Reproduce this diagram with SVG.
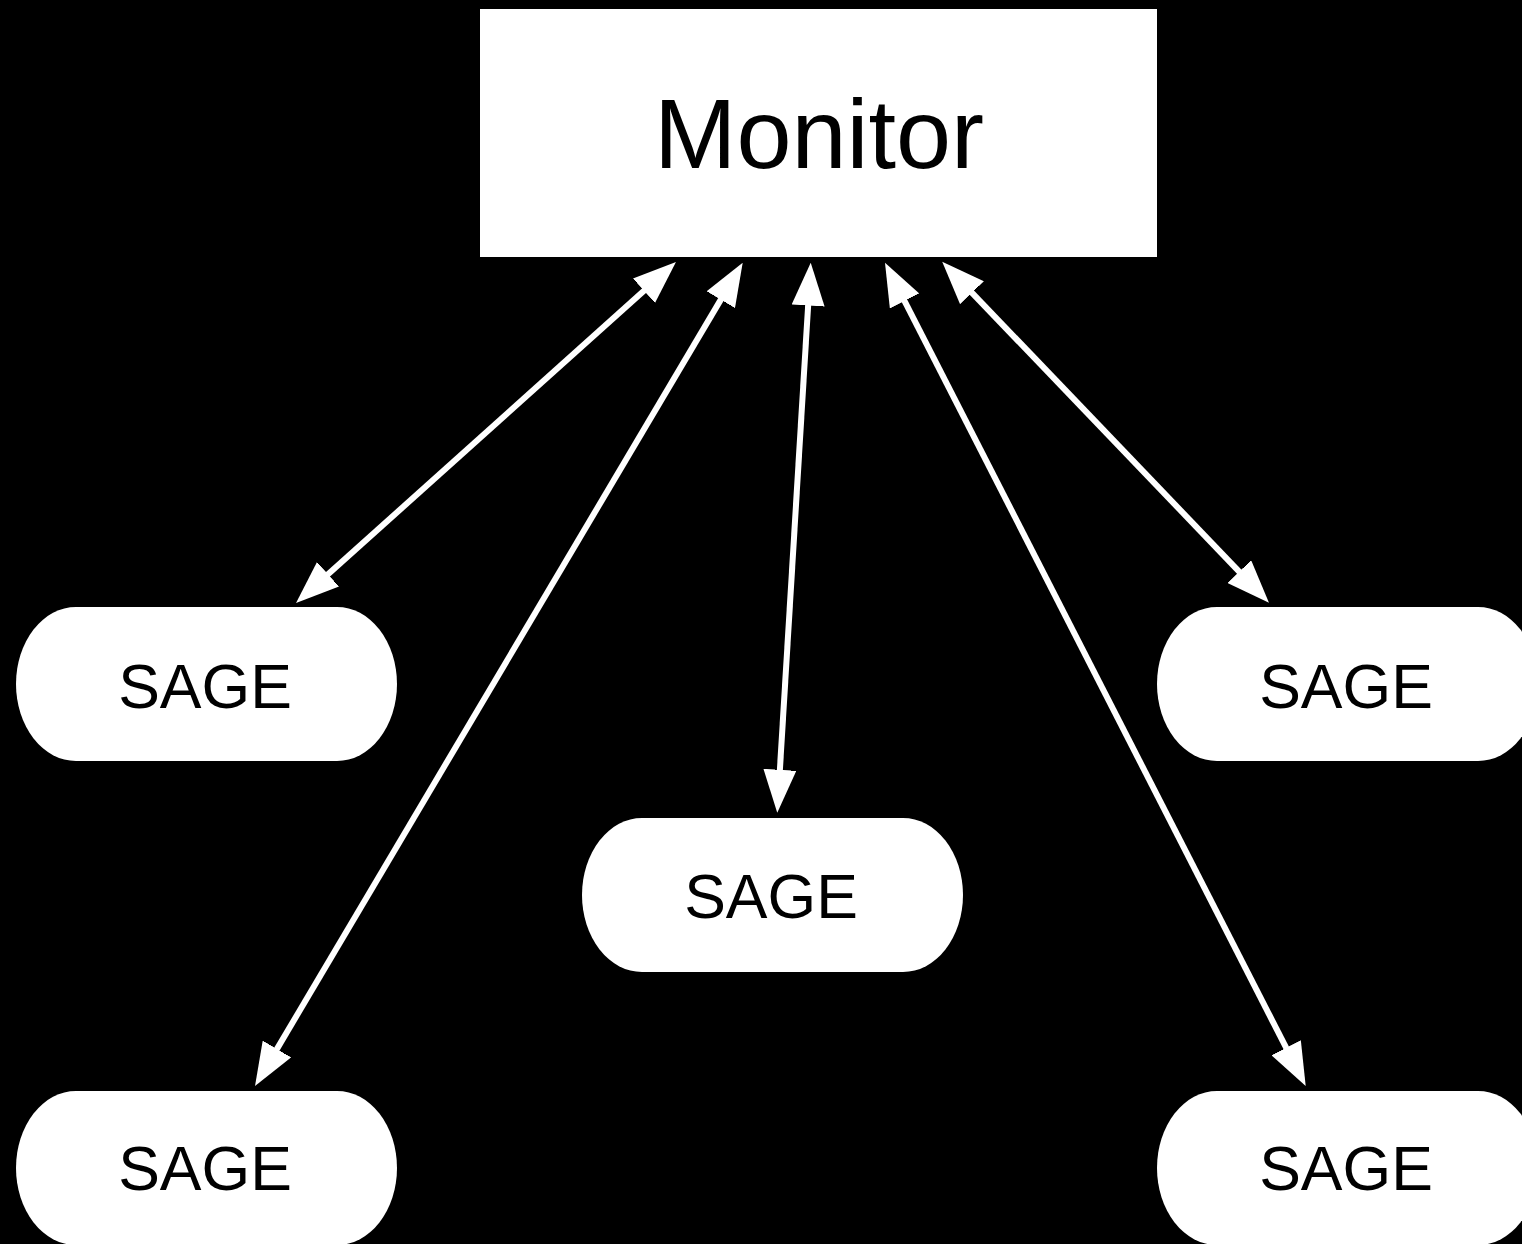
<svg xmlns="http://www.w3.org/2000/svg" width="1522" height="1244" viewBox="0 0 1522 1244">
<style>
.bg{fill:#000}
.box{fill:#fff}
.lbl{font-family:"Liberation Sans",Arial,Helvetica,sans-serif;fill:#000;text-anchor:middle}
.sage{font-size:62.5px}
.mon{font-size:99px}
.conn{stroke:#fff;stroke-width:6;fill:none;marker-start:url(#ah);marker-end:url(#ah)}
</style>
<defs>
<marker id="ah" viewBox="0 0 43 33" markerWidth="43" markerHeight="33" markerUnits="userSpaceOnUse" refX="3" refY="16.5" orient="auto-start-reverse">
<path d="M0,0 L43,16.5 L0,33 z" fill="#fff"/>
</marker>
</defs>
<rect class="bg" x="0" y="0" width="1522" height="1244"/>
<g id="connectors">
<line class="conn" x1="325.8" y1="576.3" x2="646.2" y2="288.7"/>
<line class="conn" x1="275.4" y1="1051.6" x2="722.3" y2="297.1"/>
<line class="conn" x1="779.7" y1="772.8" x2="808.3" y2="302.6"/>
<line class="conn" x1="1287.5" y1="1050.4" x2="903.2" y2="298.3"/>
<line class="conn" x1="1241.3" y1="573.8" x2="969.9" y2="290.6"/>
</g>
<g id="monitor">
<rect class="box" x="480" y="9" width="677" height="248"/>
<text class="lbl mon" x="819" y="168">Monitor</text>
</g>
<g id="sage-top-left">
<rect class="box" x="16" y="607" width="381" height="154" rx="60" ry="77"/>
<text class="lbl sage" x="205" y="708">SAGE</text>
</g>
<g id="sage-center">
<rect class="box" x="582" y="818" width="381" height="154" rx="60" ry="77"/>
<text class="lbl sage" x="771" y="918">SAGE</text>
</g>
<g id="sage-top-right">
<rect class="box" x="1157" y="607" width="381" height="154" rx="60" ry="77"/>
<text class="lbl sage" x="1346" y="708">SAGE</text>
</g>
<g id="sage-bottom-left">
<rect class="box" x="16" y="1091" width="381" height="154" rx="60" ry="77"/>
<text class="lbl sage" x="205" y="1190">SAGE</text>
</g>
<g id="sage-bottom-right">
<rect class="box" x="1157" y="1091" width="381" height="154" rx="60" ry="77"/>
<text class="lbl sage" x="1346" y="1190">SAGE</text>
</g>
</svg>
